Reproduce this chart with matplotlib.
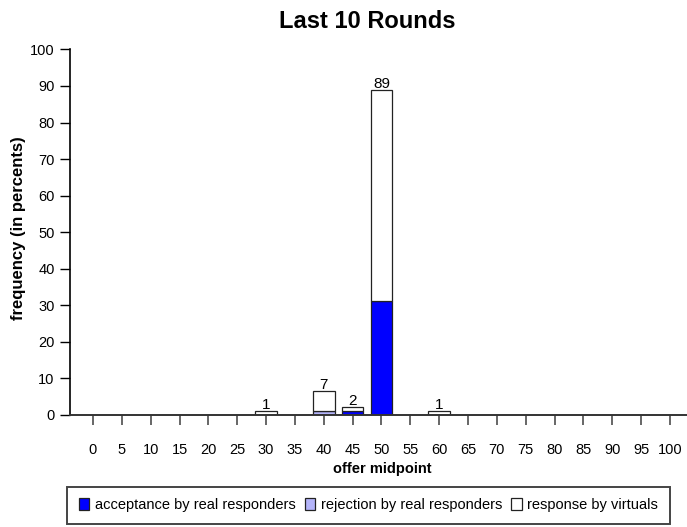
import numpy as np
import matplotlib
matplotlib.use('Agg')
import matplotlib.pyplot as plt

plt.rcParams['font.family'] = ['Liberation Sans', 'DejaVu Sans']

# offer midpoints (categories) and stacked shares in percent
midpoints = list(range(0, 101, 5))
accept_real = [0, 0, 0, 0, 0, 0, 0, 0, 0, 1.1, 31.1, 0, 0, 0, 0, 0, 0, 0, 0, 0, 0]
reject_real = [0, 0, 0, 0, 0, 0, 0, 0, 1.1, 0, 0, 0, 0, 0, 0, 0, 0, 0, 0, 0, 0]
virtuals = [0, 0, 0, 0, 0, 0, 1.1, 0, 5.6, 1.2, 57.9, 0, 1.1, 0, 0, 0, 0, 0, 0, 0, 0]

series_names = ['acceptance by real responders', 'rejection by real responders', 'response by virtuals']
series_colors = ['#0000ff', '#b4b4fa', '#ffffff']

fig = plt.figure(figsize=(6.87, 5.27), dpi=100)
ax = fig.add_axes([70 / 687, 1 - 415 / 527, 1 - 70 / 687, (415 - 49.4) / 527])

x = np.arange(len(midpoints))
a = np.array(accept_real)
r = np.array(reject_real)
v = np.array(virtuals)
total = a + r + v

bw = 0.75
bars = []
bottom = np.zeros(len(x))
for vals, name, col in zip([a, r, v], series_names, series_colors):
    mask = vals > 0
    b = ax.bar(x[mask], vals[mask], bw, bottom=bottom[mask], color=col,
               edgecolor='#222222', linewidth=0.9, label=name)
    bars.append(b)
    bottom = bottom + vals

# total labels above bars
for i in range(len(x)):
    if total[i] > 0:
        ax.text(x[i], total[i] - 0.3, str(int(round(total[i]))), ha='center', va='bottom',
                fontsize=11)

ax.set_xlim(-0.797, 20.59)
ax.set_ylim(0, 100)
ax.set_xticks(x)
ax.set_xticklabels([str(m) for m in midpoints])
ax.set_yticks(range(0, 101, 10))

for s in ['top', 'right']:
    ax.spines[s].set_visible(False)
ax.spines['left'].set_linewidth(1.2)
ax.spines['bottom'].set_linewidth(1.4)
ax.spines['bottom'].set_color('#333333')

ax.tick_params(axis='x', length=7, width=1.4, color='#666666', pad=13, labelsize=10.5)
ax.tick_params(axis='y', length=7, width=1.0, color='black', pad=4, labelsize=10.5)

fig.text(367 / 687, 1 - 21 / 527, 'Last 10 Rounds', ha='center', va='center',
         fontsize=17, fontweight='bold')
fig.text(382 / 687, 1 - 469 / 527, 'offer midpoint', ha='center', va='center',
         fontsize=10.5, fontweight='bold')
fig.text(19 / 687, 1 - 228 / 527, 'frequency (in percents)', ha='center', va='center',
         rotation=90, fontsize=12, fontweight='bold')

leg = fig.legend(handles=bars, labels=series_names, ncol=3, loc='lower left',
                 bbox_to_anchor=(67 / 687, 3 / 527, 603 / 687, 35 / 527), mode='expand',
                 fancybox=False, framealpha=1, edgecolor='#444444', fontsize=10.5,
                 handlelength=0.7, handleheight=0.9, handletextpad=0.4, columnspacing=0.5,
                 borderaxespad=0, borderpad=0.8)
leg.get_frame().set_linewidth(1.4)

fig.savefig('out.png', dpi=100)
